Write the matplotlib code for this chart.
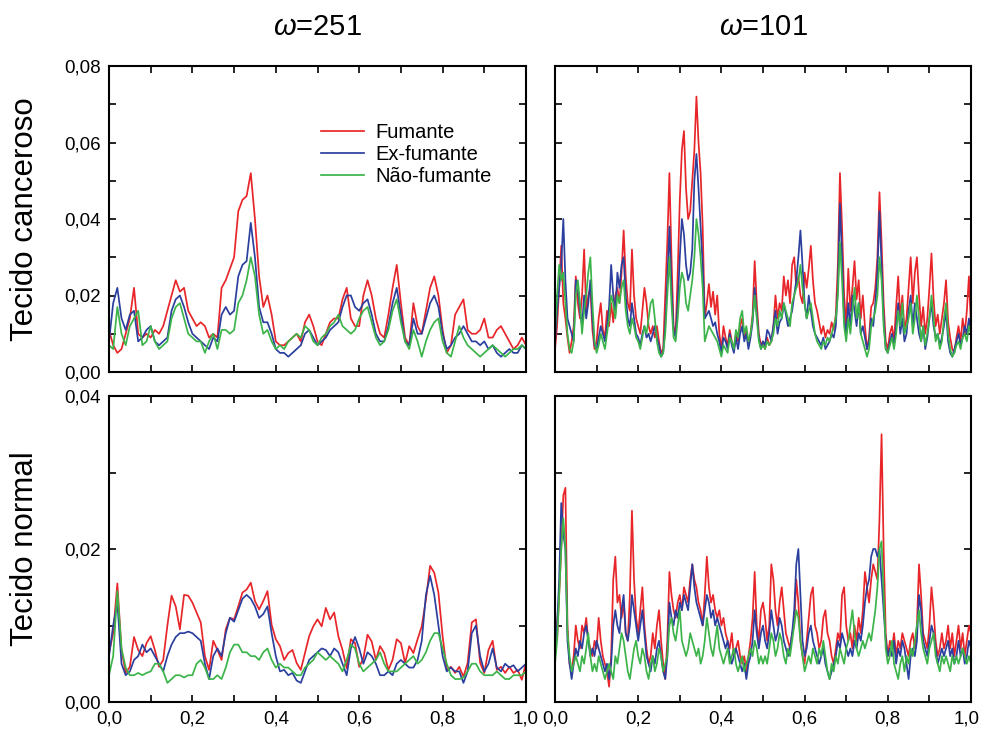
import numpy as np
import matplotlib
matplotlib.use("Agg")
import matplotlib.pyplot as plt
from matplotlib.ticker import MultipleLocator, FuncFormatter
from matplotlib.transforms import ScaledTranslation

plt.rcParams['font.family'] = ['Liberation Sans Narrow', 'Liberation Sans', 'DejaVu Sans']
plt.rcParams['mathtext.fontset'] = 'custom'
plt.rcParams['mathtext.it'] = 'Liberation Sans:italic'

# all intensities below are in units of 1e-3

# w=251, tecido canceroso (step 0.01)
c251_fum = [11, 7, 5, 6, 10, 14, 22, 10, 9, 10,
            9, 11, 10, 12, 16, 20, 24, 21, 22, 16,
            14, 12, 13, 12, 9, 10, 9, 22, 24, 27,
            30, 42, 45, 46, 52, 40, 25, 17, 20, 15,
            8, 7, 7, 8, 9, 10, 8, 13, 15, 12,
            8, 7, 10, 13, 14, 14, 19, 22, 14, 12,
            12, 20, 24, 20, 14, 10, 9, 15, 22, 28,
            18, 9, 7, 18, 12, 10, 16, 22, 25, 20,
            11, 5, 7, 15, 17, 19, 11, 10, 10, 11,
            14, 9, 9, 11, 12, 10, 8, 6, 7, 9,
            7]
c251_ex = [8, 18, 22, 14, 11, 15, 16, 8, 9, 11,
           12, 8, 7, 8, 9, 16, 19, 20, 17, 13,
           10, 9, 8, 7, 6, 9, 8, 15, 17, 15,
           16, 25, 28, 29, 39, 30, 17, 13, 13, 10,
           6, 5, 5, 4, 5, 6, 7, 10, 11, 9,
           7, 8, 9, 11, 12, 13, 17, 20, 20, 17,
           16, 18, 19, 15, 10, 8, 8, 12, 18, 22,
           15, 8, 7, 14, 10, 10, 14, 18, 20, 17,
           10, 6, 7, 9, 10, 12, 10, 8, 8, 7,
           8, 6, 7, 5, 4, 5, 6, 5, 5, 7,
           6]
c251_nao = [7, 6, 17, 10, 7, 12, 14, 16, 7, 8,
            12, 8, 6, 7, 8, 14, 17, 18, 14, 10,
            9, 8, 8, 5, 8, 10, 6, 11, 11, 10,
            11, 18, 20, 24, 30, 25, 15, 10, 11, 8,
            6, 7, 6, 8, 9, 10, 9, 12, 11, 8,
            7, 9, 10, 12, 13, 15, 12, 11, 10, 11,
            14, 16, 17, 13, 9, 7, 8, 11, 16, 19,
            13, 8, 6, 11, 8, 4, 8, 11, 13, 14,
            8, 5, 4, 8, 12, 9, 7, 6, 5, 4,
            5, 6, 7, 6, 5, 4, 5, 6, 6, 7,
            6]

# w=251, tecido normal (step 0.01)
n251_fum = [6.4, 9, 15.5, 6.8, 3.8, 4.6, 8.5, 6.8, 6, 7.7,
            8.6, 6.8, 4.6, 5.5, 10, 13.9, 12.5, 9.5, 14, 13.9,
            13, 11.7, 10.4, 6, 4.2, 8, 6.8, 5.5, 9.5, 11,
            10.8, 12.5, 14.3, 14.7, 15.6, 13.2, 12.1, 13.2, 14.5, 10.1,
            8.2, 7.3, 5.5, 6.4, 6.8, 5.1, 4.2, 6.4, 8.6, 9.9,
            10.8, 9.9, 12.3, 10.8, 11.7, 8.6, 6.8, 4.4, 8.2, 7.7,
            4.6, 5.7, 8.8, 7.9, 5.5, 7.3, 6.4, 4.2, 5.5, 8.2,
            7.7, 5.1, 7.3, 6.4, 8.2, 9.9, 13.4, 17.8, 16.9, 14.3,
            8.6, 4.2, 4.6, 3.8, 4.6, 3.3, 5.1, 10.4, 10.8, 5.1,
            3.8, 6.8, 8, 4.2, 4.6, 3.8, 4.6, 3.8, 4.2, 2.9,
            5.1]
n251_ex = [6, 10, 13, 5, 3.5, 4, 5.5, 6, 7.5, 6.5,
           7, 6, 5, 4, 6, 7.5, 8.5, 9, 9, 9.2,
           9, 8.5, 8, 5, 3, 6, 7, 6, 9, 11,
           10.5, 12, 13.5, 14, 13.5, 12.5, 11, 11.5, 12.5, 9,
           6, 4, 4.2, 3.5, 3.8, 2.8, 2.5, 4, 5.5, 6,
           6.5, 7, 6.8, 6, 7, 6.5, 5, 3.5, 7, 8.5,
           7, 5, 6.5, 6, 5, 3.5, 3.5, 4, 3.5, 5,
           5.5, 5, 4.5, 4.5, 5.5, 8, 14, 16.5, 14, 10,
           6, 4, 4.5, 4, 4, 2.5, 4, 9, 10, 6,
           4, 5, 7, 4.5, 4, 5, 4.5, 4.8, 4, 4.5,
           5]
n251_nao = [3.5, 6, 14.5, 7, 4.5, 3.5, 3.5, 3.8, 3.5, 3.8,
            4, 5, 5, 4, 2.5, 3, 3.5, 3.5, 3.2, 3.5,
            3.5, 5, 5.5, 4.5, 3, 3, 3.5, 3, 4.5, 6.5,
            7.5, 7.5, 6.5, 6.5, 6, 6, 5.5, 6.5, 7, 5.5,
            4.5, 5, 4.5, 4.5, 4, 3.5, 3.5, 4.5, 5, 5.5,
            6.5, 6, 5.5, 6, 5.5, 5, 4, 5.5, 7.5, 7,
            5, 4, 4.5, 5, 5.5, 6.5, 5, 4, 4, 4,
            4.5, 5, 5.5, 6, 5, 5.5, 6.5, 8, 9, 9,
            7, 5, 3.5, 3, 3, 3.2, 4, 5, 5, 4,
            3.5, 3.5, 3.5, 4, 3.5, 3, 3, 3.5, 3.5, 3.5,
            4]

# w=101, tecido canceroso (step 0.005)
c101_fum = [6, 12, 22, 33, 18, 14, 9, 5, 8, 12,
            25, 18, 14, 20, 32, 16, 20, 22, 11, 6,
            8, 14, 18, 11, 9, 16, 12, 18, 13, 20,
            22, 18, 26, 37, 25, 18, 16, 32, 20, 14,
            12, 10, 16, 22, 18, 12, 10, 12, 9, 12,
            8, 5, 6, 20, 34, 52, 30, 12, 10, 26,
            45, 58, 63, 48, 40, 42, 50, 58, 72, 60,
            52, 38, 14, 18, 23, 17, 21, 15, 20, 10,
            6, 12, 9, 7, 11, 8, 6, 10, 8, 12,
            14, 9, 11, 7, 10, 15, 29, 18, 10, 7,
            8, 6, 9, 7, 8, 12, 20, 14, 18, 16,
            25, 20, 24, 18, 28, 30, 22, 25, 20, 18,
            26, 22, 27, 33, 24, 18, 16, 13, 10, 12,
            9, 11, 10, 13, 11, 15, 28, 52, 38, 20,
            12, 27, 16, 22, 29, 19, 24, 14, 20, 12,
            6, 9, 17, 18, 22, 30, 47, 34, 18, 8,
            6, 10, 12, 8, 17, 25, 14, 20, 11, 14,
            22, 30, 18, 26, 30, 20, 12, 17, 10, 14,
            22, 31, 19, 12, 15, 10, 14, 18, 24, 13,
            9, 6, 5, 9, 12, 8, 14, 10, 16, 25,
            12]
c101_ex = [8, 16, 22, 28, 40, 24, 14, 12, 10, 8,
           24, 22, 16, 12, 20, 14, 18, 24, 14, 7,
           6, 9, 12, 10, 8, 12, 17, 28, 20, 15,
           26, 22, 28, 30, 20, 14, 12, 18, 14, 10,
           9, 7, 10, 12, 9, 10, 8, 10, 12, 9,
           7, 4, 5, 12, 24, 38, 22, 11, 9, 18,
           30, 40, 36, 28, 24, 26, 32, 50, 57, 48,
           38, 28, 14, 15, 16, 14, 12, 13, 10, 8,
           5, 9, 8, 6, 10, 7, 5, 9, 6, 10,
           12, 8, 10, 6, 9, 13, 22, 15, 9, 6,
           8, 7, 11, 10, 8, 12, 16, 10, 13, 14,
           18, 15, 12, 14, 16, 20, 24, 30, 37, 28,
           18, 14, 20, 16, 12, 10, 9, 8, 7, 9,
           6, 7, 8, 10, 9, 12, 22, 44, 30, 14,
           10, 18, 12, 20, 16, 12, 18, 10, 12, 9,
           6, 8, 14, 12, 18, 26, 42, 28, 14, 6,
           5, 8, 10, 7, 12, 18, 10, 14, 8, 10,
           16, 20, 12, 18, 14, 10, 8, 12, 6, 9,
           14, 18, 12, 9, 10, 7, 9, 12, 16, 8,
           5, 4, 6, 8, 10, 7, 9, 12, 10, 14,
           10]
c101_nao = [10, 20, 28, 24, 26, 18, 10, 6, 5, 8,
            20, 24, 18, 10, 16, 20, 26, 30, 18, 8,
            5, 7, 10, 8, 6, 10, 14, 20, 18, 14,
            20, 18, 22, 24, 16, 12, 10, 14, 12, 9,
            8, 6, 9, 12, 10, 14, 18, 19, 14, 8,
            5, 4, 5, 10, 20, 30, 18, 9, 8, 14,
            22, 26, 24, 18, 16, 20, 24, 30, 40, 36,
            30, 22, 8, 10, 12, 11, 10, 9, 8, 6,
            4, 7, 6, 5, 9, 8, 6, 11, 9, 14,
            16, 10, 12, 8, 10, 14, 20, 14, 8, 6,
            7, 6, 8, 7, 8, 10, 14, 12, 16, 14,
            18, 16, 14, 12, 18, 20, 22, 24, 28, 22,
            18, 14, 16, 18, 14, 10, 8, 7, 6, 8,
            7, 9, 8, 10, 12, 14, 20, 34, 24, 12,
            8, 14, 10, 16, 22, 14, 18, 10, 8, 6,
            4, 6, 12, 14, 16, 20, 30, 24, 12, 6,
            5, 7, 9, 6, 10, 16, 12, 18, 10, 12,
            14, 18, 10, 14, 20, 14, 8, 12, 7, 10,
            14, 20, 14, 8, 10, 6, 8, 14, 18, 10,
            6, 4, 5, 7, 8, 6, 9, 10, 8, 12,
            10]

# w=101, tecido normal (step 0.005)
n101_fum = [12, 8, 14, 20, 27, 28, 10, 5, 4, 6,
            10, 8, 7, 10, 9, 11, 8, 7, 6, 8,
            7, 11, 8, 6, 5, 4, 2, 6, 16, 19,
            13, 14, 11, 13, 9, 8, 14, 25, 16, 11,
            9, 12, 15, 10, 7, 5, 6, 9, 7, 10,
            12, 8, 5, 3, 8, 17, 14, 12, 11, 13,
            14, 12, 15, 14, 13, 16, 18, 16, 15, 13,
            12, 10, 14, 19, 15, 13, 14, 12, 11, 12,
            10, 11, 9, 8, 7, 9, 6, 7, 8, 6,
            5, 6, 4, 6, 8, 11, 17, 10, 8, 12,
            13, 11, 8, 10, 18, 16, 12, 10, 13, 15,
            12, 9, 8, 7, 9, 10, 16, 13, 8, 6,
            5, 8, 11, 14, 15, 10, 9, 7, 8, 11,
            12, 9, 8, 6, 5, 7, 9, 8, 14, 15,
            10, 8, 9, 7, 10, 8, 11, 9, 12, 17,
            15, 13, 16, 18, 17, 16, 24, 35, 20, 9,
            6, 8, 7, 9, 6, 8, 7, 9, 8, 7,
            6, 8, 9, 7, 10, 18, 14, 9, 8, 7,
            10, 15, 12, 8, 6, 7, 9, 7, 8, 10,
            7, 9, 6, 8, 10, 7, 9, 6, 8, 10,
            9]
n101_ex = [7, 10, 16, 26, 22, 20, 8, 5, 3, 5,
           7, 6, 8, 7, 9, 10, 8, 6, 7, 6,
           8, 7, 6, 5, 4, 5, 3, 5, 10, 12,
           10, 9, 12, 14, 9, 8, 10, 14, 12, 10,
           8, 10, 12, 9, 6, 5, 4, 6, 5, 7,
           8, 6, 4, 3, 6, 13, 11, 10, 12, 11,
           13, 12, 14, 13, 12, 15, 18, 15, 13, 12,
           11, 10, 12, 14, 13, 11, 12, 10, 11, 10,
           9, 8, 7, 8, 6, 5, 6, 7, 6, 5,
           4, 5, 3, 5, 6, 8, 12, 9, 7, 9,
           10, 8, 7, 9, 12, 10, 8, 9, 11, 10,
           8, 7, 6, 7, 9, 12, 18, 20, 14, 8,
           6, 7, 9, 10, 8, 7, 6, 5, 6, 7,
           5, 4, 3, 4, 5, 6, 8, 7, 9, 8,
           7, 6, 7, 6, 8, 7, 9, 8, 10, 13,
           15, 16, 19, 20, 20, 19, 20, 16, 12, 8,
           6, 7, 6, 8, 5, 7, 6, 8, 7, 5,
           3, 6, 7, 6, 8, 14, 12, 8, 7, 6,
           8, 10, 9, 7, 5, 6, 7, 6, 7, 8,
           6, 7, 5, 6, 8, 6, 7, 5, 6, 8,
           7]
n101_nao = [5, 8, 14, 20, 24, 20, 9, 6, 4, 5,
            6, 5, 4, 6, 5, 7, 9, 6, 4, 5,
            4, 6, 5, 4, 3, 4, 5, 4, 3, 6,
            5, 7, 9, 8, 6, 4, 3, 5, 7, 8,
            6, 5, 7, 6, 4, 3, 5, 6, 4, 5,
            7, 6, 4, 5, 6, 10, 11, 9, 8, 10,
            12, 8, 7, 6, 7, 9, 8, 7, 6, 7,
            5, 6, 8, 11, 9, 7, 6, 8, 10, 7,
            6, 5, 6, 7, 5, 6, 7, 5, 4, 5,
            6, 4, 5, 6, 7, 6, 8, 7, 5, 6,
            5, 6, 5, 7, 9, 8, 6, 7, 9, 8,
            6, 5, 7, 6, 8, 10, 12, 11, 8, 6,
            4, 5, 6, 5, 7, 6, 5, 7, 6, 8,
            6, 4, 3, 5, 4, 6, 5, 7, 6, 5,
            7, 8, 10, 12, 9, 7, 6, 7, 8, 7,
            8, 9, 8, 10, 12, 15, 20, 21, 14, 7,
            5, 6, 8, 5, 4, 3, 5, 6, 4, 6,
            5, 7, 6, 8, 10, 12, 9, 7, 6, 5,
            7, 8, 9, 6, 5, 4, 6, 5, 6, 5,
            4, 6, 5, 6, 5, 6, 7, 6, 5, 6,
            5]

labels = ['Fumante', 'Ex-fumante', 'Não-fumante']
colors = ['#e8262a', '#2b3f9e', '#3cb44a']


def comma(v, pos, nd):
    return ('{:.%df}' % nd).format(v).replace('.', ',')


def style(ax, ymax, xlab, ylab):
    ax.set_xlim(0, 1)
    ax.set_ylim(0, ymax)
    ax.xaxis.set_major_locator(MultipleLocator(0.2))
    ax.xaxis.set_minor_locator(MultipleLocator(0.1))
    ax.yaxis.set_major_locator(MultipleLocator(0.02))
    ax.yaxis.set_minor_locator(MultipleLocator(0.01))
    ax.tick_params(which='both', direction='in', top=True, right=True,
                   length=5, width=1.2, labelsize=13.5)
    ax.tick_params(axis='x', pad=6)
    ax.tick_params(axis='y', pad=6)
    if xlab:
        ax.xaxis.set_major_formatter(FuncFormatter(lambda v, p: comma(v, p, 1)))
    else:
        ax.set_xticklabels([])
    if ylab:
        ax.yaxis.set_major_formatter(FuncFormatter(lambda v, p: comma(v, p, 2)))
    else:
        ax.set_yticklabels([])
    for s in ax.spines.values():
        s.set_linewidth(1.5)


def draw(ax, series):
    for ys, c, lab in zip(series, colors, labels):
        ys = np.array(ys) * 1e-3
        xs = np.linspace(0, 1, len(ys))
        ax.plot(xs, ys, color=c, lw=1.25, label=lab)


fig = plt.figure(figsize=(9.82, 7.29), dpi=100)
W, H = 982, 729
ax_tl = fig.add_axes([109 / W, 1 - 372 / H, 417 / W, 306 / H])
ax_tr = fig.add_axes([555 / W, 1 - 372 / H, 416 / W, 306 / H])
ax_bl = fig.add_axes([109 / W, 1 - 702 / H, 417 / W, 306 / H])
ax_br = fig.add_axes([555 / W, 1 - 702 / H, 416 / W, 306 / H])

draw(ax_tl, [c251_fum, c251_ex, c251_nao])
draw(ax_tr, [c101_fum, c101_ex, c101_nao])
draw(ax_bl, [n251_fum, n251_ex, n251_nao])
draw(ax_br, [n101_fum, n101_ex, n101_nao])

style(ax_tl, 0.08, False, True)
style(ax_tr, 0.08, False, False)
style(ax_bl, 0.04, True, True)
style(ax_br, 0.04, True, False)

ax_tl.legend(loc='upper left', bbox_to_anchor=(0.49, 0.84), frameon=False,
             fontsize=14.5, handlelength=2.1, handletextpad=0.6,
             labelspacing=0.15, borderaxespad=0)

ax_tl.set_title(r'$\omega$=251', fontsize=21, pad=22)
ax_tr.set_title(r'$\omega$=101', fontsize=21, pad=22)

fig.text(25 / W, 1 - 219 / H, 'Tecido canceroso', rotation=90,
         fontsize=22.5, ha='center', va='center')
fig.text(25 / W, 1 - 549 / H, 'Tecido normal', rotation=90,
         fontsize=22.5, ha='center', va='center')

# last x label on the right panel sits on the figure edge, nudge it in a bit
fig.canvas.draw()
last = [t for t in ax_br.get_xticklabels() if t.get_text() == '1,0'][0]
last.set_transform(last.get_transform() + ScaledTranslation(-3 / 72, 0, fig.dpi_scale_trans))

fig.savefig('out.png', dpi=100)
